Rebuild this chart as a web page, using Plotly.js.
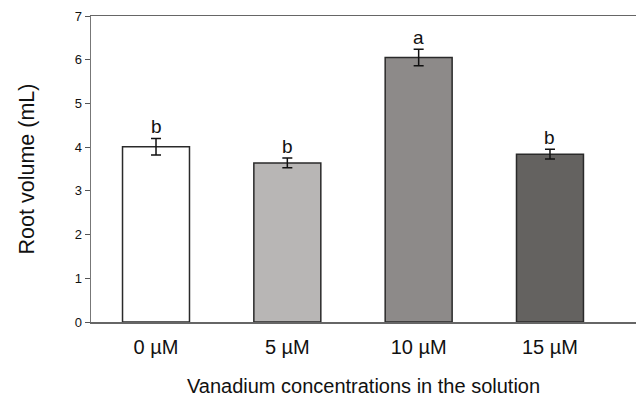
<!DOCTYPE html>
<html>
<head>
<meta charset="utf-8">
<script src="https://cdn.plot.ly/plotly-3.0.1.min.js"></script>
<style>html,body{margin:0;padding:0;background:#fff;}#chart{width:636px;height:401px;}</style>
</head>
<body>
<div id="chart"></div>
<script>
const categories = ["0 µM", "5 µM", "10 µM", "15 µM"];
const rootVolume = [4.01, 3.64, 6.05, 3.84];
const errors = [0.19, 0.11, 0.19, 0.11];
const letters = ["b", "b", "a", "b"];
const barColors = ["#ffffff", "#b8b6b5", "#8d8a89", "#646260"];

const trace = {
  type: "bar",
  x: categories,
  y: rootVolume,
  width: 0.51,
  marker: {color: barColors, line: {color: "#2a2a2a", width: 1.5}},
  error_y: {type: "data", array: errors, visible: true, color: "#111", thickness: 1.5, width: 5},
  hoverinfo: "none"
};

const annotations = categories.map((c, i) => ({
  x: c, y: rootVolume[i] + errors[i], xref: "x", yref: "y",
  text: letters[i], showarrow: false, yanchor: "bottom", yshift: -1,
  font: {family: "Liberation Sans, Arial, sans-serif", size: 19, color: "#111"}
}));

const layout = {
  width: 636, height: 401,
  margin: {l: 91, r: 0, t: 16, b: 79},
  paper_bgcolor: "#ffffff", plot_bgcolor: "#ffffff",
  showlegend: false,
  font: {family: "Liberation Sans, Arial, sans-serif", color: "#222"},
  xaxis: {
    type: "category",
    range: [-0.495, 3.655],
    showline: true, linecolor: "#666", linewidth: 1.5, mirror: true,
    ticks: "", showgrid: false, zeroline: false,
    ticklabelstandoff: 6,
    tickfont: {size: 20, color: "#111"},
    title: {text: "Vanadium concentrations in the solution", font: {size: 20, color: "#111"}, standoff: 22}
  },
  yaxis: {
    range: [0, 7], dtick: 1,
    showline: true, linecolor: "#777", linewidth: 1.5,
    ticks: "outside", ticklen: 5, tickcolor: "#555", tickwidth: 1,
    showgrid: false, zeroline: false,
    tickfont: {size: 13, color: "#111"},
    title: {text: "Root volume (mL)", font: {size: 21.5, color: "#111"}, standoff: 34}
  },
  annotations: annotations
};

Plotly.newPlot("chart", [trace], layout, {staticPlot: true, displayModeBar: false});
</script>
</body>
</html>
